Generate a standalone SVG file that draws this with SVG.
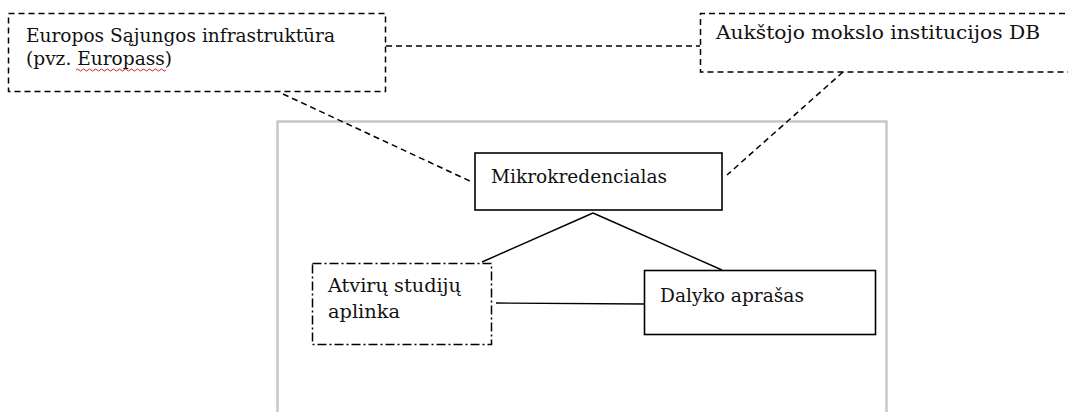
<svg xmlns="http://www.w3.org/2000/svg" width="1068" height="412" viewBox="0 0 1068 412">
<style>
text{font-family:"DejaVu Serif","Liberation Serif",serif;font-size:18.5px;fill:#111}
.dash{fill:none;stroke:#000;stroke-width:1.5;stroke-dasharray:6 4}
.solid{fill:none;stroke:#000;stroke-width:1.6}
.dashdot{fill:none;stroke:#000;stroke-width:1.5;stroke-dasharray:9 3 2 3}
.line{fill:none;stroke:#000;stroke-width:1.4}
</style>
<rect width="1068" height="412" fill="#fff"/>
<rect id="frame" x="277.5" y="121.5" width="609" height="300" fill="none" stroke="#c8c8c8" stroke-width="2.5"/>
<g id="connectors">
<line class="dash" x1="386" y1="46" x2="700" y2="46"/>
<line class="dash" x1="283" y1="94" x2="472" y2="182"/>
<line class="dash" x1="843" y1="72" x2="727" y2="175"/>
<line class="line" x1="593" y1="213" x2="482" y2="262"/>
<line class="line" x1="593" y1="213" x2="722" y2="270"/>
<line class="line" x1="496" y1="303" x2="644" y2="304"/>
</g>
<g id="eu">
<rect class="dash" x="8.5" y="13.5" width="377" height="78"/>
<text x="26" y="42" textLength="309" lengthAdjust="spacingAndGlyphs">Europos Sąjungos infrastruktūra</text>
<text x="26" y="65" textLength="146" lengthAdjust="spacingAndGlyphs">(pvz. Europass)</text>
<path d="M76 70 q1.5 -2 3 0 t3 0 t3 0 t3 0 t3 0 t3 0 t3 0 t3 0 t3 0 t3 0 t3 0 t3 0 t3 0 t3 0 t3 0 t3 0 t3 0 t3 0 t3 0 t3 0 t3 0 t3 0 t3 0 t3 0 t3 0 t3 0 t3 0 t3 0 t3 0 t3 0" fill="none" stroke="#e02020" stroke-width="1"/>
</g>
<g id="hei">
<path class="dash" d="M1075 13.5 H700.5 V72 H1075"/>
<text x="716" y="39" textLength="324" lengthAdjust="spacingAndGlyphs">Aukštojo mokslo institucijos DB</text>
</g>
<g id="mikro">
<rect class="solid" x="475" y="153" width="247" height="57" fill="#fff"/>
<text x="491" y="183" textLength="176" lengthAdjust="spacingAndGlyphs">Mikrokredencialas</text>
</g>
<g id="atviru">
<rect class="dashdot" x="312.5" y="263.5" width="179" height="81"/>
<text x="328" y="292" textLength="133" lengthAdjust="spacingAndGlyphs">Atvirų studijų</text>
<text x="328" y="318" textLength="72" lengthAdjust="spacingAndGlyphs">aplinka</text>
</g>
<g id="dalyko">
<rect class="solid" x="644.5" y="270.5" width="231" height="64"/>
<text x="660" y="302" textLength="144" lengthAdjust="spacingAndGlyphs">Dalyko aprašas</text>
</g>
</svg>
